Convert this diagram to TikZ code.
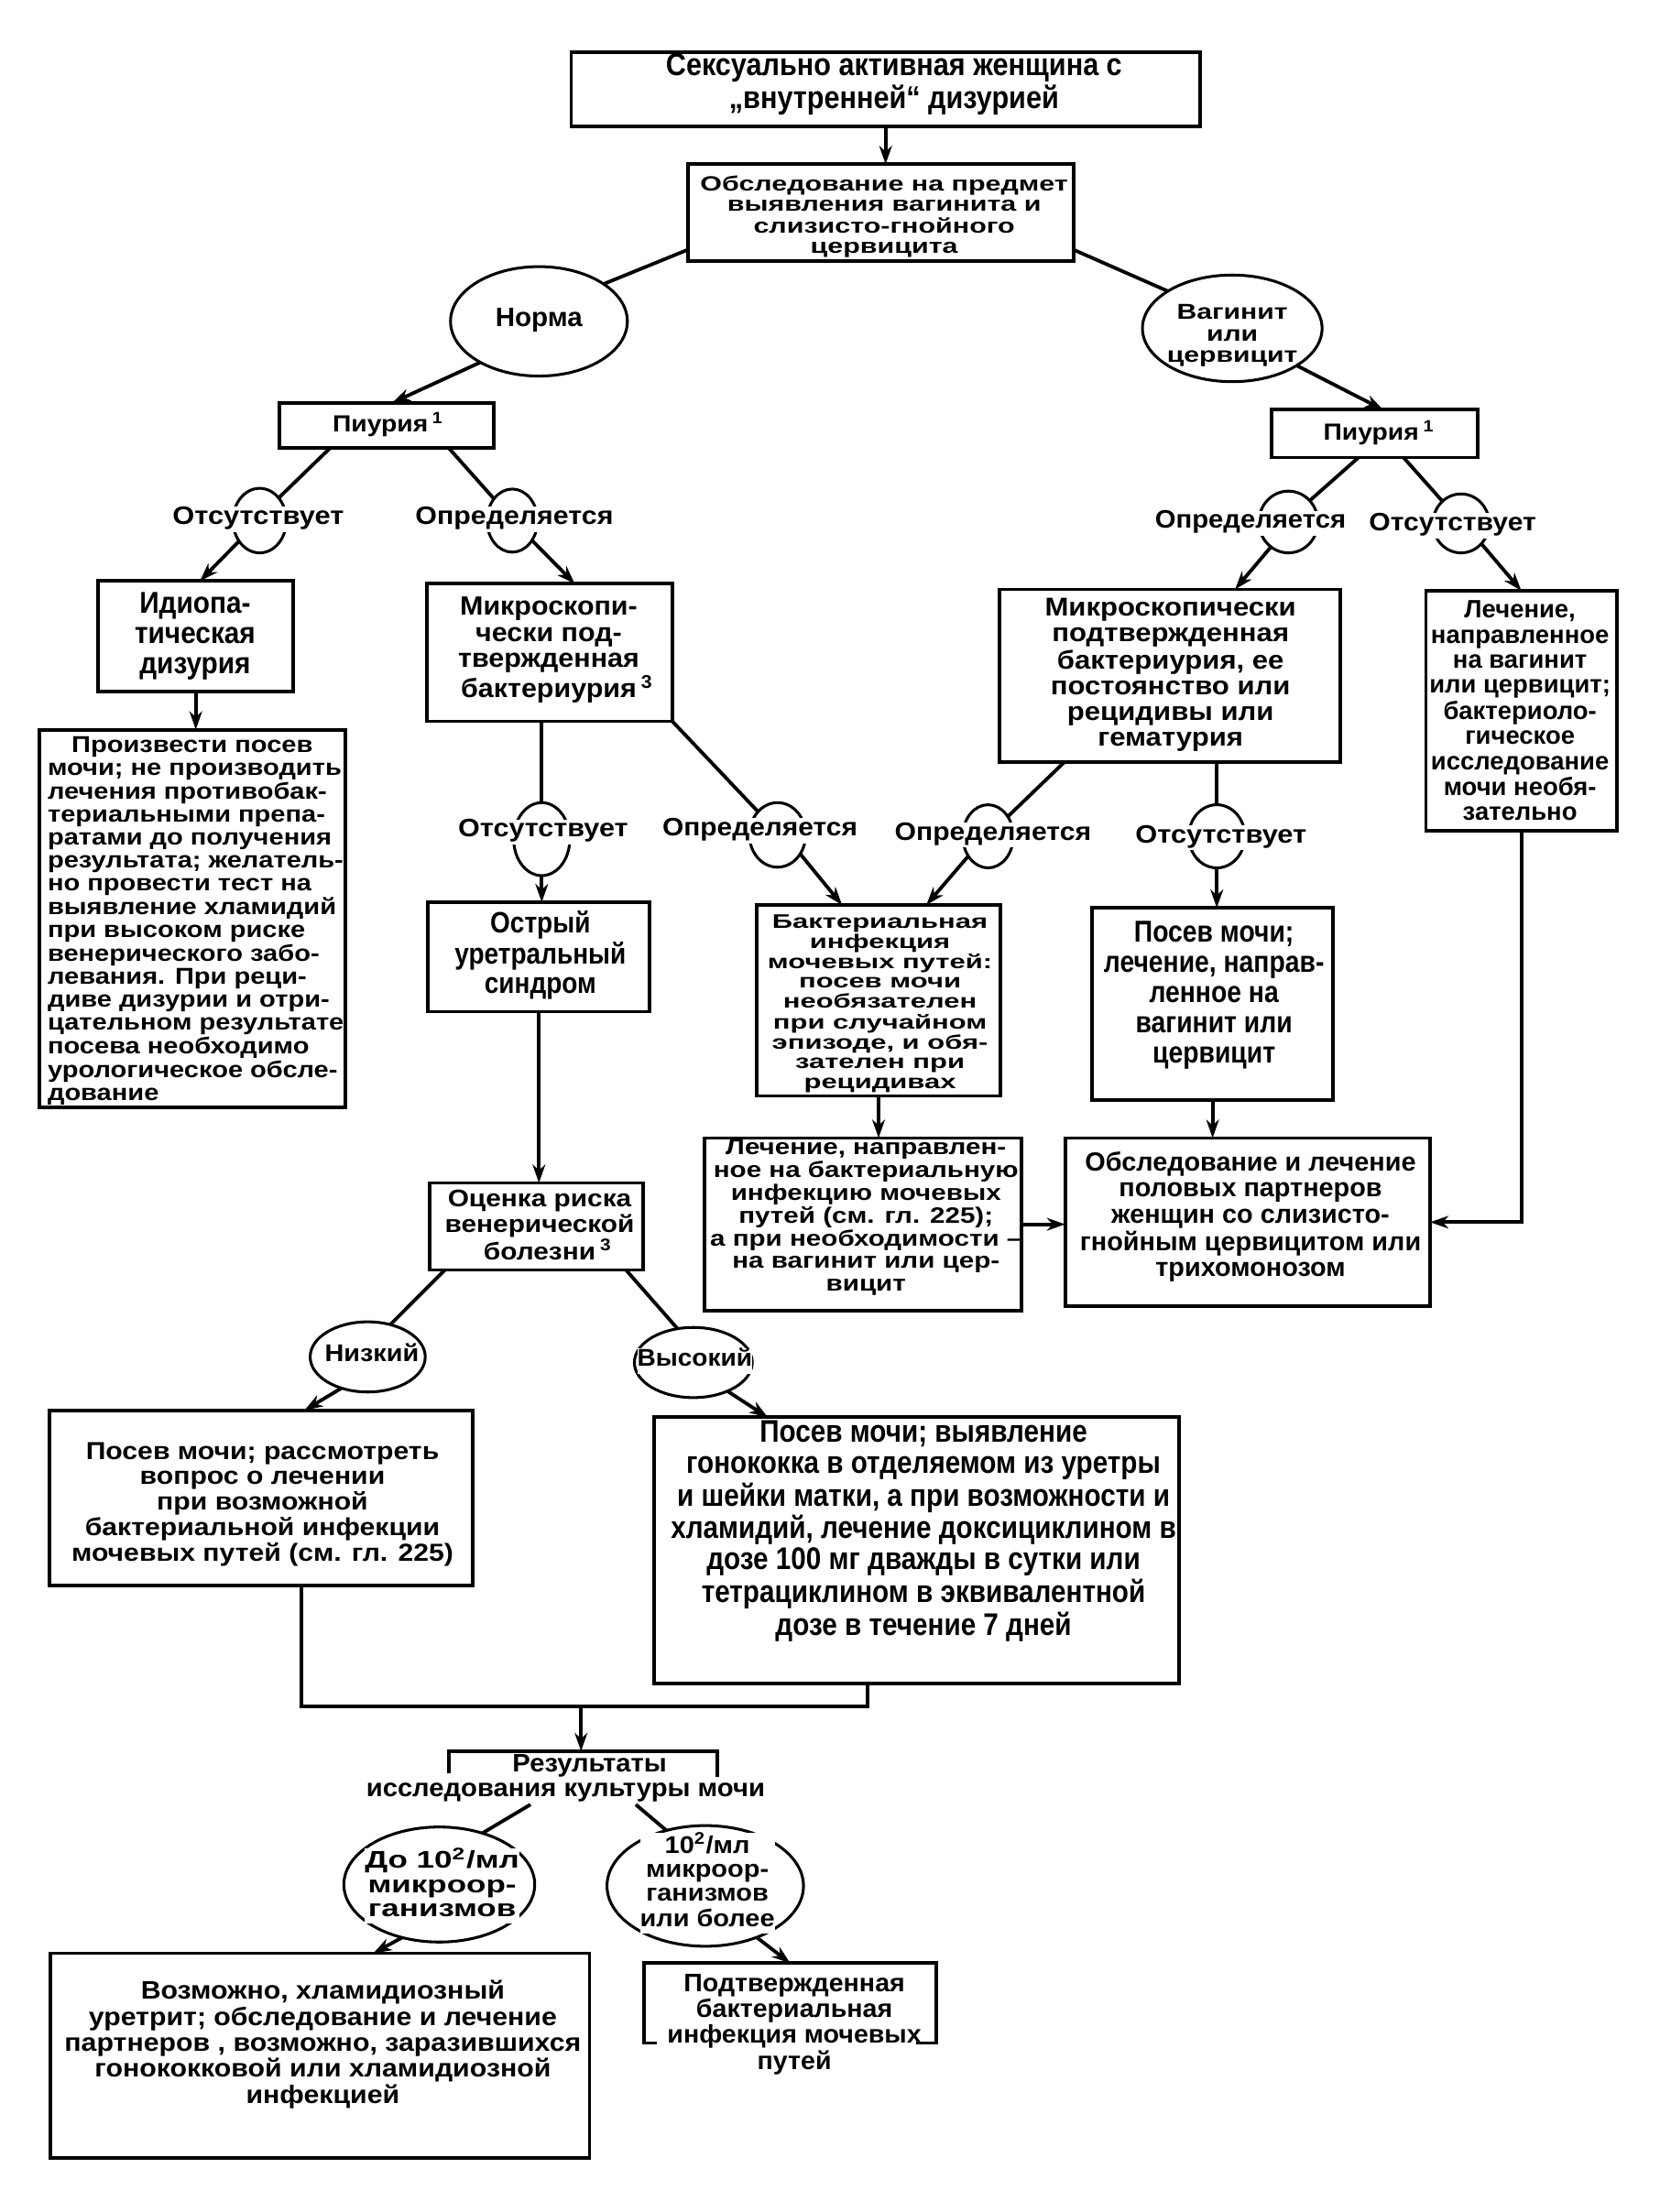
\documentclass[tikz,border=0pt]{standalone}
\usepackage{fontspec}
\setmainfont{Liberation Sans Bold}
\usepackage{graphicx}
\usetikzlibrary{shapes.geometric,arrows.meta,calc}

\newcommand\tb[4][c]{\resizebox*{#2pt}{#3pt}{\fontsize{10}{10}\selectfont\begin{tabular}{@{}#1@{}}#4\end{tabular}}}
\newcommand\bx[5]{%
  \pgfmathsetmacro\bxX{(#2+#4)/2}\pgfmathsetmacro\bxY{(#3+#5)/2}%
  \pgfmathsetmacro\bxW{#4-#2}\pgfmathsetmacro\bxH{#5-#3}%
  \node[box,minimum width=\bxW pt,minimum height=\bxH pt] (#1) at (\bxX,\bxY) {};}

\tikzset{
  box/.style={draw, line width=2.5pt, inner sep=0, outer sep=0},
  ring/.style={draw, ellipse, line width=2pt, inner sep=0, outer sep=0},
  tx/.style={inner sep=0, outer sep=0},
  lab/.style={inner sep=0, outer sep=0, fill=white},
  con/.style={line width=2.5pt},
  arr/.style={line width=2.5pt, -{Stealth[length=13pt,width=9pt,inset=4pt]}},
}

\begin{document}
\begin{tikzpicture}[x=1pt,y=-1pt]
\fill[white] (0,0) rectangle (1190,1576.4);
\useasboundingbox (0,0) rectangle (1190,1576.4);

% ---------- boxes ----------
\bx{T1}{407}{37}{855}{90}
\node[tx] (T1t) at (637,61) {\tb{325}{46}{Сексуально активная женщина с\\„внутренней“ дизурией}};

\bx{B2}{490}{117}{765}{186}
\node[tx] (B2t) at (630,155) {\tb{262}{60}{Обследование на предмет\\выявления вагинита и\\слизисто-гнойного\\цервицита}};

\node[ring, minimum width=126pt, minimum height=78pt] (E1) at (384,229) {};
\node[tx] (E1t) at (384,229) {\tb{62}{19}{Норма}};

\node[ring, minimum width=128pt, minimum height=76pt] (E2) at (878,234) {};
\node[tx] (E2t) at (878,240) {\tb{93}{46}{Вагинит\\или\\цервицит}};

\bx{P1}{199}{287}{352}{319}
\node[tx] (P1t) at (271,303.5) {\tb{68}{19}{Пиурия\rlap{\,\textsuperscript{1}}}};

\bx{P2}{906}{292}{1053}{326}
\node[tx] (P2t) at (977,309) {\tb{68}{19}{Пиурия\rlap{\,\textsuperscript{1}}}};

% rings with labels
\node[ring, minimum width=38pt, minimum height=46pt] (R1) at (185,371) {};
\node[lab] (L1) at (184,370) {\tb{122}{18}{Отсутствует}};
\node[ring, minimum width=36pt, minimum height=45pt] (R2) at (365,371) {};
\node[lab] (L2) at (366.5,370) {\tb{141}{18}{Определяется}};
\node[ring, minimum width=42pt, minimum height=44pt] (R4) at (918,372) {};
\node[lab] (L4) at (891,373) {\tb{136}{18}{Определяется}};
\node[ring, minimum width=40pt, minimum height=42pt] (R5) at (1041,373) {};
\node[lab] (L5) at (1035,374.5) {\tb{119}{18}{Отсутствует}};

\bx{I1}{70}{414}{209}{493}
\node[tx] (I1t) at (139,454.5) {\tb{86}{64.5}{Идиопа-\\тическая\\дизурия}};

\bx{BL}{28}{520}{246}{789}
\node[tx] (BLt) at (139.5,657) {\tb[l]{211}{264.5}{\hspace*{0.9em}Произвести посев\\мочи; не производить\\лечения противобак-\\териальными препа-\\ратами до получения\\результата; желатель-\\но провести тест на\\выявление хламидий\\при высоком риске\\венерического забо-\\левания. При реци-\\диве дизурии и отри-\\цательном результате\\посева необходимо\\урологическое обсле-\\дование}};

\bx{M1}{304}{416}{479}{514}
\node[tx] (M1t) at (391,464) {\tb{129}{78}{Микроскопи-\\чески под-\\твержденная\\бактериурия\rlap{\,\textsuperscript{3}}}};

\bx{M2}{712}{420}{955}{543}
\node[tx] (M2t) at (834,481.8) {\tb{179}{111}{Микроскопически\\подтвержденная\\бактериурия, ее\\постоянство или\\рецидивы или\\гематурия}};

\bx{LR}{1016}{421}{1152}{592}
\node[tx] (LRt) at (1083,509) {\tb{129}{162}{Лечение,\\направленное\\на вагинит\\или цервицит;\\бактериоло-\\гическое\\исследование\\мочи необя-\\зательно}};

\node[ring, minimum width=40pt, minimum height=52pt] (R3) at (386,598) {};
\node[lab] (L3) at (387,593) {\tb{121}{18}{Отсутствует}};
\node[ring, minimum width=40pt, minimum height=46pt] (R7) at (554,595) {};
\node[lab] (L7) at (541.5,592) {\tb{139}{18}{Определяется}};
\node[ring, minimum width=36pt, minimum height=45pt] (R6) at (704,596) {};
\node[lab] (L6) at (707.5,595) {\tb{140}{18}{Определяется}};
\node[ring, minimum width=40pt, minimum height=45pt] (R8) at (867,596) {};
\node[lab] (L8) at (870,597) {\tb{122}{18}{Отсутствует}};

\bx{O1}{305}{643}{463}{721}
\node[tx] (O1t) at (385,681.7) {\tb{122}{65}{Острый\\уретральный\\синдром}};

\bx{BK}{539}{645}{713}{781}
\node[tx] (BKt) at (627,715.7) {\tb{160}{128.5}{Бактериальная\\инфекция\\мочевых путей:\\посев мочи\\необязателен\\при случайном\\эпизоде, и обя-\\зателен при\\рецидивах}};

\bx{PM}{778}{647}{950}{784}
\node[tx] (PMt) at (865,710) {\tb{157}{107.5}{Посев мочи;\\лечение, направ-\\ленное на\\вагинит или\\цервицит}};

\bx{LN}{502}{811}{728}{934}
\node[tx] (LNt) at (617,868) {\tb{222}{113}{Лечение, направлен-\\ное на бактериальную\\инфекцию мочевых\\путей (см. гл. 225);\\а при необходимости –\\на вагинит или цер-\\вицит}};

\bx{OP}{759}{811}{1019}{931}
\node[tx] (OPt) at (891,868) {\tb{243}{95}{Обследование и лечение\\половых партнеров\\женщин со слизисто-\\гнойным цервицитом или\\трихомонозом}};

\bx{OC}{306}{843}{458}{905}
\node[tx] (OCt) at (384.5,875.5) {\tb{135}{55}{Оценка риска\\венерической\\болезни\rlap{\,\textsuperscript{3}}}};

\node[ring, minimum width=82pt, minimum height=50pt] (N1) at (262,967) {};
\node[lab] (N1t) at (265,966.5) {\tb{67}{18}{Низкий}};
\node[ring, minimum width=84pt, minimum height=50pt] (V1) at (494,971) {};
\node[lab] (V1t) at (495,970) {\tb{82}{18}{Высокий}};

\bx{PL}{35}{1005}{337}{1130}
\node[tx] (PLt) at (187,1073) {\tb{272}{90}{Посев мочи; рассмотреть\\вопрос о лечении\\при возможной\\бактериальной инфекции\\мочевых путей (см. гл. 225)}};

\bx{PR}{466}{1010}{840}{1200}
\node[tx] (PRt) at (658,1092) {\tb{360}{160}{Посев мочи; выявление\\гонококка в отделяемом из уретры\\и шейки матки, а при возможности и\\хламидий, лечение доксициклином в\\дозе 100 мг дважды в сутки или\\тетрациклином в эквивалентной\\дозе в течение 7 дней}};

\node[tx] (RES) at (403,1268) {\tb{284}{36}{\hspace*{1.8em}Результаты\\исследования культуры мочи}};

\node[ring, minimum width=136pt, minimum height=82pt] (D1) at (313,1343) {};
\node[lab] (D1t) at (315,1344) {\tb{110}{54}{До 10\textsuperscript{2}/мл\\микроор-\\ганизмов}};
\node[ring, minimum width=140pt, minimum height=86pt] (D2) at (502.5,1344) {};
\node[lab] (D2t) at (504,1342) {\tb{96}{72}{10\textsuperscript{2}/мл\\микроор-\\ганизмов\\или более}};

\bx{BB}{36}{1392}{420}{1538}
\node[tx] (BBt) at (230,1458) {\tb{368}{93}{Возможно, хламидиозный\\уретрит; обследование и лечение\\партнеров , возможно, заразившихся\\гонококковой или хламидиозной\\инфекцией}};

\node[tx] (PB) at (566,1443.5) {\tb{181}{74}{Подтвержденная\\бактериальная\\инфекция мочевых\\путей}};

% ---------- connectors ----------
\draw[arr] (T1.south) -- (T1.south |- B2.north);
\draw[con] ($(B2.south west)+(0,-8)$) -- (E1.30);
\draw[con] ($(B2.south east)+(0,-8)$) -- (E2.150);
\draw[arr] (E1.215) -- ($(P1.north)+(4,0)$);
\draw[arr] (E2.-30) -- ($(P2.north)+(6,0)$);

\draw[con] ($(P1.south)+(-40,0)$) -- (R1.50);
\draw[arr] (R1.225) -- ($(I1.north)+(3,0)$);
\draw[con] ($(P1.south)+(44,0)$) -- (R2.130);
\draw[arr] (R2.315) -- ($(M1.north)+(18,0)$);
\draw[arr] (I1.south) -- (I1.south |- BL.north);

\draw[con] (R3.north |- M1.south) -- (R3.north);
\draw[arr] (R3.south) -- (R3.south |- O1.north);
\draw[con] (M1.south east) -- (R7.130);
\draw[arr] (R7.-40) -- ($(BK.north west)+(61,0)$);
\draw[arr] (O1.south) -- (O1.south |- OC.north);

\draw[con] ($(P2.south)+(-11.5,0)$) -- (R4.45);
\draw[arr] (R4.235) -- ($(M2.north)+(46.5,0)$);
\draw[con] ($(P2.south)+(20.5,0)$) -- (R5.130);
\draw[arr] (R5.-45) -- (LR.north);
\draw[con] ($(M2.south west)+(46.5,0)$) -- (R6.45);
\draw[arr] (R6.225) -- ($(BK.north east)+(-53,0)$);
\draw[con] (R8.north |- M2.south) -- (R8.north);
\draw[arr] (R8.south) -- (R8.south |- PM.north);

\draw[arr] (BK.south) -- (BK.south |- LN.north);
\draw[arr] (PM.south) -- (PM.south |- OP.north);
\draw[arr] (LR.south) |- (OP.east);
\draw[arr] (LN.east) -- (LN.east -| OP.west);

\draw[con] ($(OC.south west)+(11,0)$) -- (N1.55);
\draw[arr] (N1.230) -- ($(PL.north)+(31,0)$);
\draw[con] ($(OC.south east)+(-12,0)$) -- (V1.115);
\draw[arr] (V1.-40) -- ($(PR.north west)+(81,0)$);

\coordinate (jR) at (618,1216);
\coordinate (jM) at (414,1216);
\draw[con] ($(PL.south)+(29,0)$) |- (jR) -- (jR |- PR.south);
\coordinate (brL) at (320,1248);
\coordinate (brR) at (511,1248);
\coordinate (RESt) at (414,1248);
\draw[arr] (jM) -- (RESt);
\draw[con] ($(brL)+(0,16)$) -- (brL) -- (brR) -- ($(brR)+(0,18)$);

\draw[con] ($(RES.south)+(-25,0)$) -- (D1.50);
\draw[con] ($(RES.south)+(50,0)$) -- (D2.125);
\draw[arr] (D1.235) -- ($(BB.north)+(38,0)$);
\coordinate (PBtl) at (459,1399);
\coordinate (PBtr) at (667,1399);
\coordinate (PBtop) at (563,1399);
\draw[arr] (D2.-45) -- (PBtop);
\draw[con] ($(PBtl)+(9,57)$) -- ($(PBtl)+(0,57)$) -- (PBtl) -- (PBtr) -- ($(PBtr)+(0,57)$) -- ($(PBtr)+(-14,57)$);
\end{tikzpicture}
\end{document}
